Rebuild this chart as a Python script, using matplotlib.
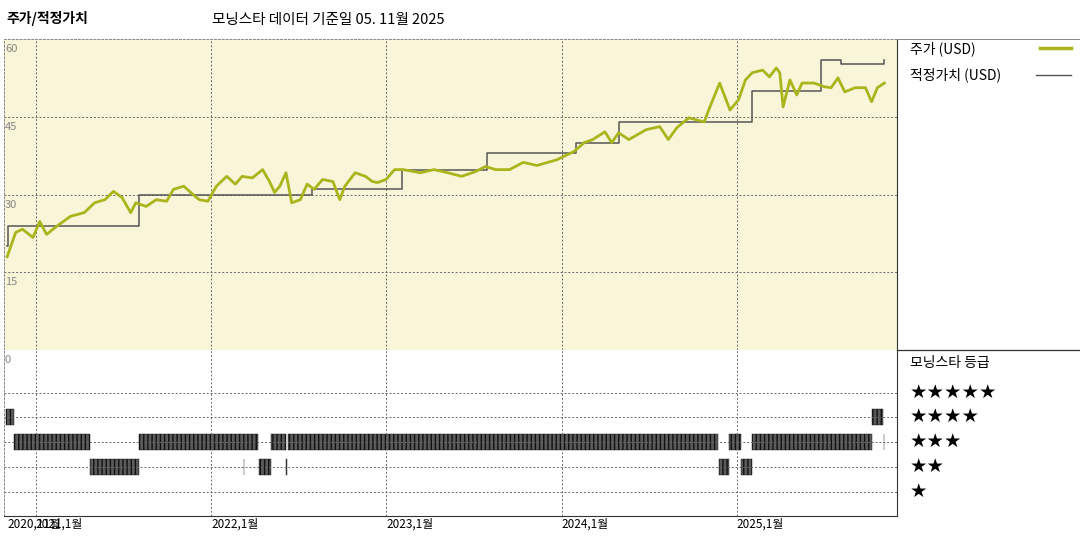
import matplotlib
matplotlib.use("Agg")
import matplotlib.pyplot as plt
import matplotlib.lines as mlines

plt.rcParams['font.family'] = ['Noto Sans CJK KR', 'DejaVu Sans']

price_t = [2020.836, 2020.885, 2020.924, 2020.983, 2021.022, 2021.061, 2021.120, 2021.198, 2021.276, 2021.335,
           2021.394, 2021.443, 2021.492, 2021.541, 2021.570, 2021.629, 2021.687, 2021.746, 2021.785, 2021.844,
           2021.883, 2021.932, 2021.981, 2022.030, 2022.089, 2022.138, 2022.177, 2022.235, 2022.294, 2022.333,
           2022.362, 2022.392, 2022.427, 2022.460, 2022.509, 2022.548, 2022.588, 2022.636, 2022.695, 2022.734,
           2022.763, 2022.822, 2022.881, 2022.920, 2022.950, 2022.998, 2023.047, 2023.096, 2023.194, 2023.272,
           2023.351, 2023.429, 2023.507, 2023.566, 2023.624, 2023.703, 2023.781, 2023.859, 2023.973, 2024.071,
           2024.129, 2024.178, 2024.247, 2024.286, 2024.325, 2024.384, 2024.482, 2024.560, 2024.609, 2024.658,
           2024.726, 2024.814, 2024.844, 2024.902, 2024.961, 2025.010, 2025.049, 2025.088, 2025.147, 2025.186,
           2025.225, 2025.245, 2025.264, 2025.303, 2025.342, 2025.372, 2025.440, 2025.499, 2025.538, 2025.577,
           2025.616, 2025.675, 2025.734, 2025.769, 2025.802, 2025.842]
price_v = [18, 22.7, 23.3, 21.7, 24.8, 22.3, 23.9, 25.8, 26.5, 28.4,
           29, 30.6, 29.4, 26.5, 28.4, 27.7, 29, 28.7, 31, 31.6,
           30.4, 29, 28.7, 31.6, 33.5, 32, 33.5, 33.2, 34.8, 32.5,
           30.4, 31.6, 34.2, 28.4, 29, 32, 31, 32.9, 32.5, 29,
           31.6, 34.2, 33.5, 32.5, 32.3, 32.9, 34.8, 34.8, 34.2, 34.8,
           34.2, 33.5, 34.4, 35.4, 34.8, 34.8, 36.2, 35.6, 36.7, 38.3,
           40, 40.6, 42.1, 40, 41.9, 40.6, 42.5, 43.1, 40.6, 42.9,
           44.8, 44, 46.7, 51.5, 46.3, 48.3, 52.1, 53.5, 54, 52.7,
           54.4, 53.5, 46.9, 52.1, 49.2, 51.5, 51.5, 50.8, 50.6, 52.5,
           49.8, 50.6, 50.6, 47.9, 50.6, 51.5]

fair_t = [2020.836, 2020.840, 2021.59, 2022.578, 2023.087, 2023.576, 2024.08, 2024.329, 2025.088, 2025.479, 2025.593, 2025.842]
fair_v = [20.0, 23.9, 30.0, 31.0, 34.8, 38.0, 39.9, 44.0, 49.9, 56.0, 55.1, 56.0]

rating_start = [2020.830, 2020.876, 2021.310, 2021.590, 2022.187, 2022.271, 2022.344, 2022.430, 2022.440, 2024.896, 2024.957, 2025.025, 2025.088, 2025.769, 2025.837]
rating_end   = [2020.876, 2021.310, 2021.590, 2022.265, 2022.190, 2022.344, 2022.425, 2022.433, 2024.893, 2024.957, 2025.025, 2025.088, 2025.769, 2025.832, 2025.840]
rating_star  = [4, 3, 2, 3, 2, 2, 3, 2, 3, 2, 3, 2, 3, 4, 3]

year_ticks = [2021, 2022, 2023, 2024, 2025]
xtick_pos = [2020.836, 2021, 2022, 2023, 2024, 2025]
xtick_lab = ["2020,11월", "2021,1월", "2022,1월", "2023,1월", "2024,1월", "2025,1월"]
ytick_vals = [60, 45, 30, 15]

XMIN, XMAX = 2020.818, 2025.914
grid_kw = dict(color='#666666', lw=0.7, ls=(0, (2, 2)))

fig = plt.figure(figsize=(10.8, 5.4), dpi=100)
ax = fig.add_axes([4/1080, 1-350/540, 893/1080, 311/540])
ax2 = fig.add_axes([4/1080, 1-516/540, 893/1080, 166/540])

ax.set_facecolor('#f8f5d8')
ax.set_xlim(XMIN, XMAX); ax.set_ylim(0, 60)
for y in ytick_vals[1:]:
    ax.axhline(y, **grid_kw)
for x in year_ticks:
    ax.axvline(x, **grid_kw)
for y in ytick_vals:
    ax.text(XMIN + 0.005, y - 1.0, str(y), color='#888888', fontsize=8, va='top', ha='left')
ax.step(fair_t, fair_v, where='post', color='#555555', lw=1.1)
ax.plot(price_t, price_v, color='#aab51c', lw=2.0)
ax.set_xticks([]); ax.set_yticks([])
for s in ['top', 'left', 'bottom']:
    ax.spines[s].set_color('#888888'); ax.spines[s].set_linestyle((0, (2, 2))); ax.spines[s].set_linewidth(0.7)
ax.spines['right'].set_color('#333333')

ax2.set_xlim(XMIN, XMAX); ax2.set_ylim(0.02, 6.72)
for y in [1, 2, 3, 4, 5]:
    ax2.axhline(y, **grid_kw)
for x in year_ticks:
    ax2.axvline(x, **grid_kw)
for s, e, r in zip(rating_start, rating_end, rating_star):
    ax2.broken_barh([(s, max(e - s, 0.002))], (r - 0.32, 0.64), facecolor='#5a5a5a',
                    edgecolor='#111111', hatch='||||', lw=0.3)
ax2.text(XMIN + 0.005, 6.5, '0', color='#888888', fontsize=8, va='top', ha='left')
ax2.set_yticks([])
ax2.set_xticks(xtick_pos)
ax2.set_xticklabels(xtick_lab, fontsize=8.5, ha='left')
ax2.tick_params(axis='x', length=0, pad=1)
for s in ['top', 'left']:
    ax2.spines[s].set_color('#888888'); ax2.spines[s].set_linestyle((0, (2, 2))); ax2.spines[s].set_linewidth(0.7)
ax2.spines['top'].set_visible(False)
ax2.spines['right'].set_color('#333333')
ax2.spines['bottom'].set_color('#333333')

# frame lines in right panel
fig.add_artist(mlines.Line2D([897/1080, 1], [1-39/540, 1-39/540], color='#888888', lw=0.7))
fig.add_artist(mlines.Line2D([897/1080, 1], [1-350/540, 1-350/540], color='#333333', lw=0.9))

fig.text(6/1080, 1-18/540, '주가/적정가치', fontsize=10, fontweight='bold', va='center')
fig.text(212/1080, 1-20/540, '모닝스타 데이터 기준일 05. 11월 2025', fontsize=10.5, va='center')

fig.text(910/1080, 1-49/540, '주가 (USD)', fontsize=10, va='center')
fig.add_artist(mlines.Line2D([1040/1080, 1071/1080], [1-48/540, 1-48/540], color='#aab51c', lw=2.5))
fig.text(910/1080, 1-75/540, '적정가치 (USD)', fontsize=10, va='center')
fig.add_artist(mlines.Line2D([1036/1080, 1071/1080], [1-75/540, 1-75/540], color='#555555', lw=1.0))

fig.text(910/1080, 1-363/540, '모닝스타 등급', fontsize=10, va='center')
for i, n in enumerate([5, 4, 3, 2, 1]):
    fig.text(910/1080, 1-(392 + i*24.75)/540, '★' * n, fontsize=14, va='center',
             family=['DejaVu Sans'])

fig.savefig('out.png', dpi=100)
